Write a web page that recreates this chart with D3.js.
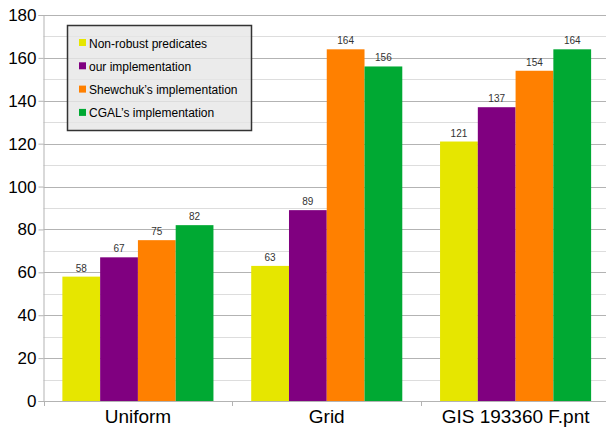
<!DOCTYPE html>
<html>
<head>
<meta charset="utf-8">
<script src="https://cdn.jsdelivr.net/npm/d3@7"></script>
<style>
  html, body { margin: 0; padding: 0; background: #fff; }
  svg { display: block; font-family: "Liberation Sans", Arial, sans-serif; }
</style>
</head>
<body>
<svg id="chart" width="606" height="429"></svg>
<script>
const categories = ["Uniform", "Grid", "GIS 193360 F.pnt"];
const seriesNames = ["Non-robust predicates", "our implementation", "Shewchuk\u2019s implementation", "CGAL\u2019s implementation"];
const nonRobust = [58, 63, 121];
const ourImpl = [67, 89, 137];
const shewchuk = [75, 164, 154];
const cgal = [82, 156, 164];
const colors = ["#e6e600", "#800080", "#ff8000", "#00a933"];
const yTicks = [0, 20, 40, 60, 80, 100, 120, 140, 160, 180];

const seriesValues = [nonRobust, ourImpl, shewchuk, cgal];

const svg = d3.select("#chart");
const mLeft = 43.5, mRight = 610, mTop = 15, mBottom = 401;

const x0 = d3.scaleBand().domain(categories).range([mLeft, mRight]).paddingInner(0.2).paddingOuter(0.1);
const x1 = d3.scaleBand().domain(d3.range(seriesNames.length)).range([0, x0.bandwidth()]);
const y = d3.scaleLinear().domain([0, 180]).range([mBottom, mTop]);

// minor gridlines
const minor = d3.range(10, 180, 20);
svg.append("g").selectAll("line").data(minor).join("line")
  .attr("x1", mLeft).attr("x2", 606)
  .attr("y1", d => Math.round(y(d)) + 0.5).attr("y2", d => Math.round(y(d)) + 0.5)
  .attr("stroke", "#dddddd").attr("stroke-width", 1);
// major gridlines
svg.append("g").selectAll("line").data(yTicks.filter(d => d > 0)).join("line")
  .attr("x1", mLeft).attr("x2", 606)
  .attr("y1", d => Math.round(y(d)) + 0.5).attr("y2", d => Math.round(y(d)) + 0.5)
  .attr("stroke", "#b3b3b3").attr("stroke-width", 1);

// bars
const groups = svg.append("g").selectAll("g").data(categories).join("g")
  .attr("transform", d => `translate(${x0(d)},0)`);
groups.selectAll("rect").data((c, ci) => seriesValues.map((s, si) => ({si, v: s[ci]}))).join("rect")
  .attr("x", d => x1(d.si)).attr("width", x1.bandwidth())
  .attr("y", d => y(d.v)).attr("height", d => y(0) - y(d.v))
  .attr("fill", d => colors[d.si]);
groups.selectAll("text").data((c, ci) => seriesValues.map((s, si) => ({si, v: s[ci]}))).join("text")
  .attr("x", d => x1(d.si) + x1.bandwidth() / 2).attr("y", d => y(d.v) - 5)
  .attr("text-anchor", "middle").attr("font-size", 10).attr("fill", "#333")
  .text(d => d.v);

// y axis
const yAxis = svg.append("g").attr("transform", `translate(${mLeft},0)`)
  .call(d3.axisLeft(y).tickValues(yTicks).tickSize(5).tickPadding(2));
yAxis.select(".domain").attr("stroke", "#b3b3b3");
yAxis.selectAll(".tick line").attr("stroke", "#b3b3b3");
yAxis.selectAll(".tick text").attr("font-size", 17).attr("fill", "#000").attr("font-family", "Liberation Sans, Arial, sans-serif");

// x axis
const xAxis = svg.append("g").attr("transform", `translate(0,${mBottom + 0.5})`)
  .call(d3.axisBottom(x0).tickSize(0).tickPadding(8));
xAxis.select(".domain").attr("stroke", "#b3b3b3").attr("d", `M${mLeft},0H606`);
xAxis.selectAll(".tick text").attr("font-size", 19).attr("fill", "#000").attr("font-family", "Liberation Sans, Arial, sans-serif");
// category separator ticks
const seps = categories.map((c, i) => x0(c) - x0.step() * x0.paddingInner() / 2);
seps[0] = mLeft;
svg.append("g").selectAll("line").data(seps).join("line")
  .attr("x1", d => Math.round(d) + 0.5).attr("x2", d => Math.round(d) + 0.5)
  .attr("y1", mBottom).attr("y2", mBottom + 5)
  .attr("stroke", "#b3b3b3");

// legend
const lg = svg.append("g");
lg.append("rect").attr("x", 67.5).attr("y", 25.5).attr("width", 184).attr("height", 105)
  .attr("fill", "#e6e6e6").attr("fill-opacity", 0.8)
  .attr("stroke", "#333").attr("stroke-width", 1.5);
const items = lg.selectAll("g.item").data(seriesNames).join("g")
  .attr("transform", (d, i) => `translate(79,${43 + i * 23.3})`);
items.append("rect").attr("x", 0).attr("y", -4).attr("width", 7).attr("height", 7)
  .attr("fill", (d, i) => colors[i]);
items.append("text").attr("x", 10).attr("y", 4.5).attr("font-size", 12).attr("fill", "#000")
  .text(d => d);
</script>
</body>
</html>
